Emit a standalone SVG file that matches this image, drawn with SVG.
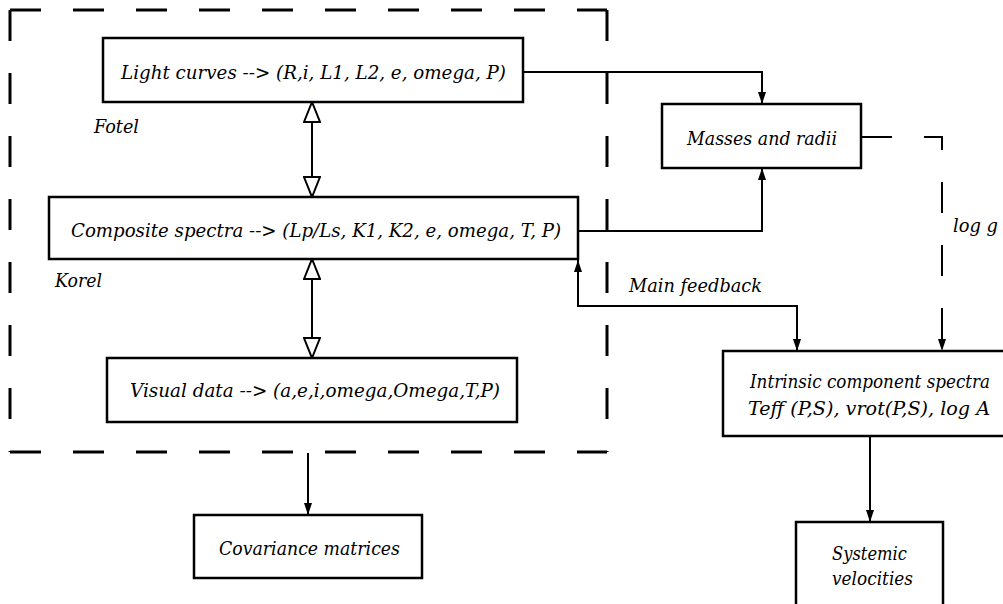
<svg xmlns="http://www.w3.org/2000/svg" width="1003" height="604" viewBox="0 0 1003 604">
<style>
.box{fill:#fff;stroke:#000;stroke-width:2.5}
.frame{fill:none;stroke:#000;stroke-width:3;stroke-dasharray:31 32}
.con{fill:none;stroke:#000;stroke-width:2}
.dcon{fill:none;stroke:#000;stroke-width:2;stroke-dasharray:31 32}
.t{font-family:"DejaVu Serif","Liberation Serif",serif;font-style:italic;font-size:19px;fill:#000}
</style>
<defs>
<marker id="hollow" viewBox="0 0 22 18" refX="21" refY="9" markerWidth="22" markerHeight="18" markerUnits="userSpaceOnUse" orient="auto-start-reverse">
<path d="M1,1 L21,9 L1,17 Z" fill="#fff" stroke="#000" stroke-width="2"/>
</marker>
<marker id="solid" viewBox="0 0 12 8" refX="12" refY="4" markerWidth="12" markerHeight="8" markerUnits="userSpaceOnUse" orient="auto-start-reverse">
<path d="M0,0 L12,4 L0,8 Z" fill="#000"/>
</marker>
</defs>

<g id="frame">
<path class="frame" d="M10,10 H607"/>
<path class="frame" d="M10,10 V452"/>
<path class="frame" d="M607,10 V452"/>
<path class="frame" d="M10,452 H607"/>
</g>

<g id="connectors">
<path class="con" d="M312,102 V197" marker-start="url(#hollow)" marker-end="url(#hollow)"/>
<path class="con" d="M312,259 V358" marker-start="url(#hollow)" marker-end="url(#hollow)"/>
<path class="con" d="M523,72 H762 V104" marker-end="url(#solid)"/>
<path class="con" d="M578,231 H762 V168" marker-end="url(#solid)"/>
<path class="dcon" d="M861,137 H942 V351" marker-end="url(#solid)"/>
<path class="con" d="M578,260 V306 H797 V351" marker-start="url(#solid)" marker-end="url(#solid)"/>
<path class="con" d="M308,453 V515" marker-end="url(#solid)"/>
<path class="con" d="M870,436 V522" marker-end="url(#solid)"/>
</g>

<g id="light-curves">
<rect class="box" x="103" y="38" width="420" height="64"/>
<text class="t" x="121" y="79" textLength="385" lengthAdjust="spacingAndGlyphs">Light curves --&gt; (R,i, L1, L2, e, omega, P)</text>
</g>
<g id="composite-spectra">
<rect class="box" x="49" y="197" width="529" height="62"/>
<text class="t" x="71" y="237" textLength="490" lengthAdjust="spacingAndGlyphs">Composite spectra --&gt; (Lp/Ls, K1, K2, e, omega, T, P)</text>
</g>
<g id="visual-data">
<rect class="box" x="107" y="358" width="410" height="64"/>
<text class="t" x="130" y="397" textLength="370" lengthAdjust="spacingAndGlyphs">Visual data --&gt; (a,e,i,omega,Omega,T,P)</text>
</g>
<g id="covariance">
<rect class="box" x="194" y="515" width="228" height="63"/>
<text class="t" x="219" y="555" textLength="181" lengthAdjust="spacingAndGlyphs">Covariance matrices</text>
</g>
<g id="masses">
<rect class="box" x="662" y="104" width="199" height="64"/>
<text class="t" x="687" y="145" textLength="150" lengthAdjust="spacingAndGlyphs">Masses and radii</text>
</g>
<g id="intrinsic">
<rect class="box" x="723" y="351" width="290" height="85"/>
<text class="t" x="750" y="388" textLength="240" lengthAdjust="spacingAndGlyphs">Intrinsic component spectra</text>
<text class="t" x="748" y="415" textLength="242" lengthAdjust="spacingAndGlyphs">Teff (P,S), vrot(P,S), log A</text>
</g>
<g id="systemic">
<rect class="box" x="796" y="522" width="147" height="95"/>
<text class="t" x="832" y="560" textLength="75" lengthAdjust="spacingAndGlyphs">Systemic</text>
<text class="t" x="832" y="585" textLength="81" lengthAdjust="spacingAndGlyphs">velocities</text>
</g>
<g id="labels">
<text class="t" x="94" y="133" textLength="45" lengthAdjust="spacingAndGlyphs">Fotel</text>
<text class="t" x="55" y="287" textLength="47" lengthAdjust="spacingAndGlyphs">Korel</text>
<text class="t" x="629" y="292" textLength="133" lengthAdjust="spacingAndGlyphs">Main feedback</text>
<text class="t" x="953" y="232" textLength="45" lengthAdjust="spacingAndGlyphs">log g</text>
</g>
</svg>
